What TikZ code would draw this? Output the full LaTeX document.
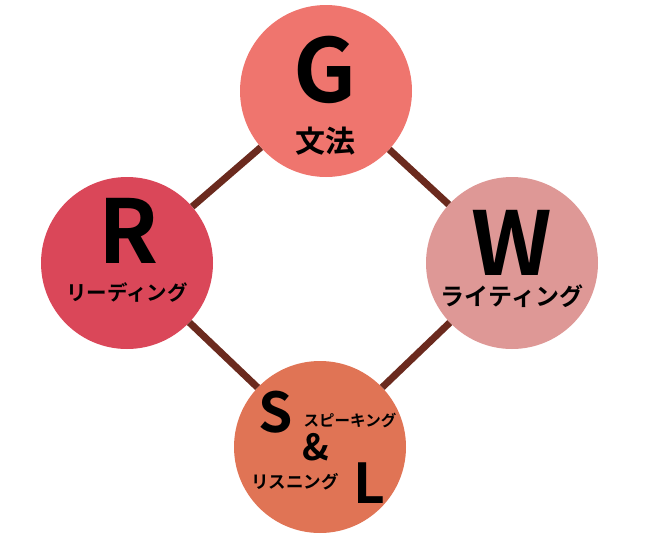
\documentclass[tikz,border=0pt]{standalone}
\usepackage{fontspec}
\newfontfamily\jpfont{Noto Sans CJK JP}[BoldFont={Noto Sans CJK JP Bold}]
\definecolor{gcol}{HTML}{EF756E}
\definecolor{rcol}{HTML}{DA4759}
\definecolor{wcol}{HTML}{DE9896}
\definecolor{slcol}{HTML}{E07455}
\definecolor{linkcol}{HTML}{6B2A1E}
\begin{document}
\begin{tikzpicture}[x=1pt,y=-1pt]
% Estilos
\tikzset{
  skill/.style={circle, minimum size=172pt, inner sep=0pt},
  letter/.style={inner sep=0pt, font=\jpfont\bfseries\fontsize{88}{88}\selectfont},
  small letter/.style={inner sep=0pt, font=\jpfont\bfseries\fontsize{55}{55}\selectfont},
  caption/.style={inner sep=0pt, font=\jpfont\bfseries\fontsize{#1}{#1}\selectfont},
  link/.style={draw=linkcol, line width=7pt}
}
\useasboundingbox (0,0) rectangle (646,546);

% Círculos
\node[skill, fill=gcol] (grammar) at (326,91) {};
\node[skill, fill=rcol] (reading) at (127,263) {};
\node[skill, fill=wcol] (writing) at (512,263) {};
\node[skill, fill=slcol] (speaking) at (320,447) {};

% Letras e legendas
\node[letter] (grammar_letter) at (325,70) {G};
\node[caption=30] (grammar_text) at (325,141) {文法};

\node[letter] (reading_letter) at (129,231) {R};
\node[caption=20.5] (reading_text) at (127,293) {リーディング};

\node[letter] (writing_letter) at (512,243) {W};
\node[caption=24] (writing_text) at (512,296) {ライティング};

\node[small letter] (speaking_letter) at (276,412) {S};
\node[caption=15.5] (speaking_text) at (350,420) {スピーキング};
\node[caption=36] (amp) at (316,447) {\&};
\node[caption=17.5] (listening_text) at (295,482) {リスニング};
\node[small letter] (listening_letter) at (369,483) {L};

% Ligações
\draw[link] (grammar) -- (reading);
\draw[link] (grammar) -- (writing);
\draw[link] (reading) -- (speaking);
\draw[link] (writing) -- (speaking);
\end{tikzpicture}
\end{document}
